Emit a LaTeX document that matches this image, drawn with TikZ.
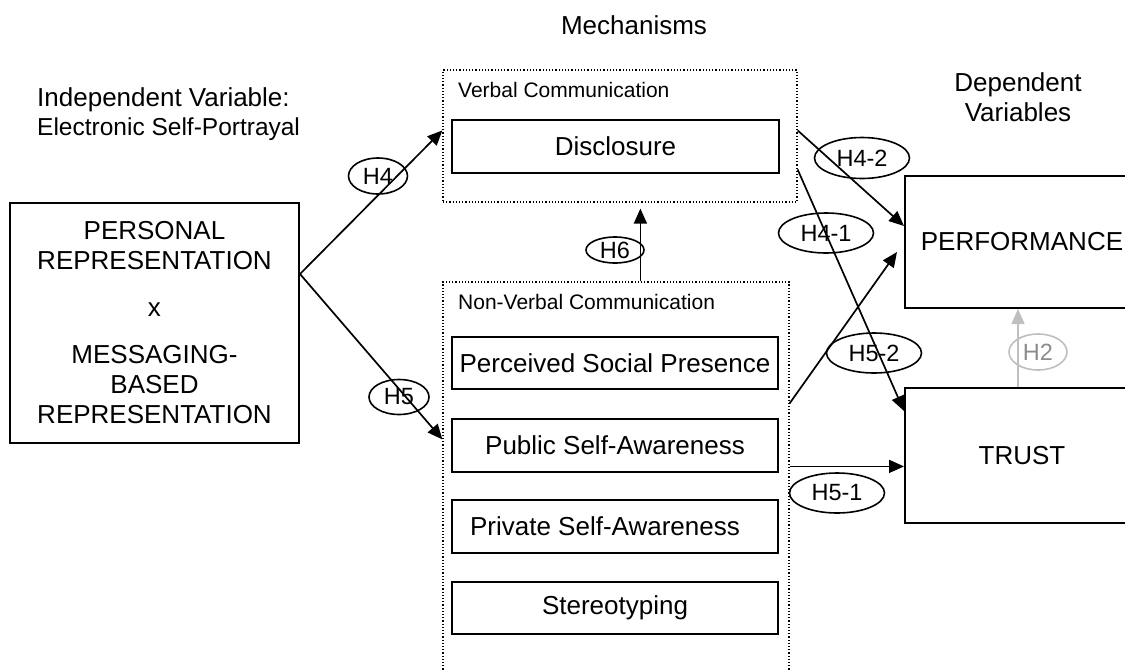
\documentclass[tikz,border=0pt]{standalone}
\usepackage{fontspec}
\setmainfont{Liberation Sans}
\usetikzlibrary{shapes.geometric,arrows.meta,calc}
\begin{document}
\begin{tikzpicture}[x=1pt,y=-1pt,
  box/.style={draw,line width=2pt,rectangle,inner sep=0pt,font=\fontsize{26}{30}\selectfont},
  group/.style={draw,line width=1.2pt,dotted,rectangle,inner sep=0pt},
  hyp/.style={draw,ellipse,line width=1.6pt,inner sep=0pt,font=\fontsize{23.5}{26}\selectfont},
  conn/.style={line width=1.7pt,-{Triangle[length=15pt,width=13pt]}},
  grey/.style={draw=black!25,text=black!45},
  title/.style={font=\fontsize{26}{30}\selectfont,inner sep=0pt},
  small/.style={font=\fontsize{21}{24}\selectfont,inner sep=0pt,anchor=west}
]
\useasboundingbox (0,0) rectangle (1125,670);

% titles
\node[title] (mech) at (634,25) {Mechanisms};
\node[title,anchor=west] (indep) at (37,100) {Independent Variable:};
\node[font=\fontsize{24.5}{28}\selectfont,inner sep=0pt,anchor=west] (esp) at (37,129) {Electronic Self-Portrayal};
\node[title,align=center] (dep) at (1018,97) {Dependent\\Variables};

% left box
\node[box,minimum width=289pt,minimum height=240pt,align=center] (left) at (154.5,323)
  {PERSONAL\\REPRESENTATION\\[17pt]x\\[17pt]MESSAGING-\\BASED\\REPRESENTATION};

% verbal group
\node[group,minimum width=354pt,minimum height=132pt] (verbal) at (620,136) {};
\node[small] (vlab) at (458,90) {Verbal Communication};
\node[box,minimum width=327pt,minimum height=53pt] (disc) at (615.5,146.5) {Disclosure};

% non-verbal group
\node[group,minimum width=346pt,minimum height=400pt] (nonverbal) at (616,482) {};
\node[small] (nlab) at (458,302) {Non-Verbal Communication};
\node[box,minimum width=326pt,minimum height=52pt] (psp) at (615,363) {Perceived Social Presence};
\node[box,minimum width=326pt,minimum height=53pt] (pub) at (615,445.5) {Public Self-Awareness};
\node[box,minimum width=326pt,minimum height=53pt] (priv) at (615,526.5) {\hspace*{-20pt}Private Self-Awareness};
\node[box,minimum width=326pt,minimum height=52pt] (stereo) at (615,608) {Stereotyping};

% dependent boxes
\node[box,minimum width=234pt,minimum height=132pt] (perf) at (1022,242) {PERFORMANCE};
\node[box,minimum width=234pt,minimum height=135pt] (trust) at (1022,455.5) {TRUST};

% connector endpoints
\coordinate (src) at ($(left.north east)+(0,72)$);
\coordinate (vin) at ($(verbal.north west)+(0,61)$);
\coordinate (nin) at ($(nonverbal.north west)+(0,158)$);
\coordinate (h6s) at ($(nonverbal.north west)+(198,0)$);
\coordinate (h6e) at ($(verbal.south west)+(198,6)$);
\coordinate (h42s) at ($(verbal.north east)+(0,61)$);
\coordinate (h42e) at ($(perf.north west)+(0,51)$);
\coordinate (h41s) at ($(verbal.north east)+(0,100)$);
\coordinate (h41e) at ($(trust.north west)+(0,24)$);
\coordinate (h52s) at ($(nonverbal.north east)+(0,122)$);
\coordinate (h52e) at ($(perf.north west)+(-7,77)$);
\coordinate (h51s) at ($(nonverbal.north east)+(0,185)$);
\coordinate (h2s) at ($(trust.north west)+(114,0)$);
\coordinate (h2e) at ($(perf.south west)+(114,0)$);

\draw[conn] (src) -- (vin);
\draw[conn] (src) -- (nin);
\draw[conn] (h6s) -- (h6e);
\draw[conn] (h42s) -- (h42e);
\draw[conn] (h41s) -- (h41e);
\draw[conn] (h52s) -- (h52e);
\draw[conn] (h51s) -- (trust.west |- h51s);
\draw[conn,draw=black!25,fill=black!25] (h2s) -- (h2e);

% hypothesis labels
\node[hyp,minimum width=59pt,minimum height=36pt] (lh4) at (378,176) {H4};
\node[hyp,minimum width=60pt,minimum height=35pt] (lh5) at (399,397) {H5};
\node[hyp,minimum width=58pt,minimum height=26pt] (lh6) at (615,250) {H6};
\node[hyp,minimum width=95pt,minimum height=41pt] (lh42) at (862,158) {H4-2};
\node[hyp,minimum width=95pt,minimum height=40pt] (lh41) at (826,233) {H4-1};
\node[hyp,minimum width=95pt,minimum height=40pt] (lh52) at (874,353) {H5-2};
\node[hyp,minimum width=95pt,minimum height=40pt] (lh51) at (837,493) {H5-1};
\node[hyp,grey,minimum width=58pt,minimum height=36pt] (lh2) at (1038,352) {H2};
\end{tikzpicture}
\end{document}
